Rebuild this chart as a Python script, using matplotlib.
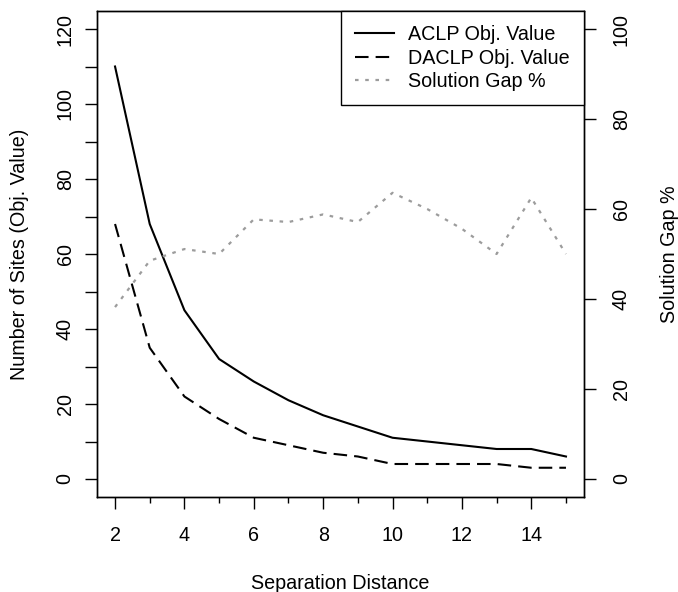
import matplotlib
matplotlib.use('Agg')
import matplotlib.pyplot as plt
from matplotlib.ticker import FixedLocator, NullFormatter

# ---- data ----
separation = [2, 3, 4, 5, 6, 7, 8, 9, 10, 11, 12, 13, 14, 15]
aclp_obj = [110, 68, 45, 32, 26, 21, 17, 14, 11, 10, 9, 8, 8, 6]
daclp_obj = [68, 35, 22, 16, 11, 9, 7, 6, 4, 4, 4, 4, 3, 3]
solution_gap = [38.2, 48.5, 51.1, 50.0, 57.7, 57.1, 58.8, 57.1, 63.6, 60.0, 55.6, 50.0, 62.5, 50.0]

x_major = [2, 4, 6, 8, 10, 12, 14]
x_minor = [3, 5, 7, 9, 11, 13, 15]
y_left_major = [0, 20, 40, 60, 80, 100, 120]
y_left_minor = [10, 30, 50, 70, 90, 110]
y_right_ticks = [0, 20, 40, 60, 80, 100]

plt.rcParams['font.family'] = ['Liberation Sans', 'DejaVu Sans']
FS = 14.2

fig = plt.figure(figsize=(6.78, 5.92), dpi=100)
ax = fig.add_axes([97 / 678, 95 / 592, 487 / 678, 486 / 592])

l1, = ax.plot(separation, aclp_obj, color='black', lw=1.5, label='ACLP Obj. Value')
l2, = ax.plot(separation, daclp_obj, color='black', lw=1.5, dashes=(6.5, 3.4),
              label='DACLP Obj. Value')
ax.set_xlim(1.48, 15.52)
ax.set_ylim(-4.8, 124.8)

ax.xaxis.set_major_locator(FixedLocator(x_major))
ax.xaxis.set_minor_locator(FixedLocator(x_minor))
ax.xaxis.set_minor_formatter(NullFormatter())
ax.yaxis.set_major_locator(FixedLocator(y_left_major))
ax.yaxis.set_minor_locator(FixedLocator(y_left_minor))
ax.yaxis.set_minor_formatter(NullFormatter())

ax.tick_params(axis='x', which='major', length=8.6, width=1.0, pad=12.5, labelsize=FS)
ax.tick_params(axis='x', which='minor', length=4.3, width=1.0)
ax.tick_params(axis='y', which='both', length=8.6, width=1.0, pad=7.5, labelsize=FS,
               labelrotation=90)
for t in ax.get_yticklabels():
    t.set_va('center')

ax.set_xlabel('Separation Distance', fontsize=FS, labelpad=20.5)
ax.set_ylabel('Number of Sites (Obj. Value)', fontsize=FS, labelpad=19)

ax2 = ax.twinx()
l3, = ax2.plot(separation, solution_gap, color='#9c9c9c', lw=1.6, dashes=(1.6, 3.0),
               label='Solution Gap %')
ax2.set_ylim(-4, 104)
ax2.yaxis.set_major_locator(FixedLocator(y_right_ticks))
ax2.tick_params(axis='y', which='both', length=8.6, width=1.0, pad=11.5, labelsize=FS,
                labelrotation=90)
for t in ax2.get_yticklabels():
    t.set_va('center')
ax2.set_ylabel('Solution Gap %', fontsize=FS, labelpad=21)

for a in (ax, ax2):
    for s in a.spines.values():
        s.set_linewidth(1.0)
        s.set_color('black')

leg = ax2.legend(handles=[l1, l2, l3], loc='upper right', borderaxespad=0,
                 fancybox=False, edgecolor='black', framealpha=1, fontsize=FS,
                 handlelength=1.95, handletextpad=0.73, labelspacing=0.22,
                 borderpad=0.72)
leg.get_frame().set_linewidth(1.0)

fig.savefig('out.png', dpi=100)
